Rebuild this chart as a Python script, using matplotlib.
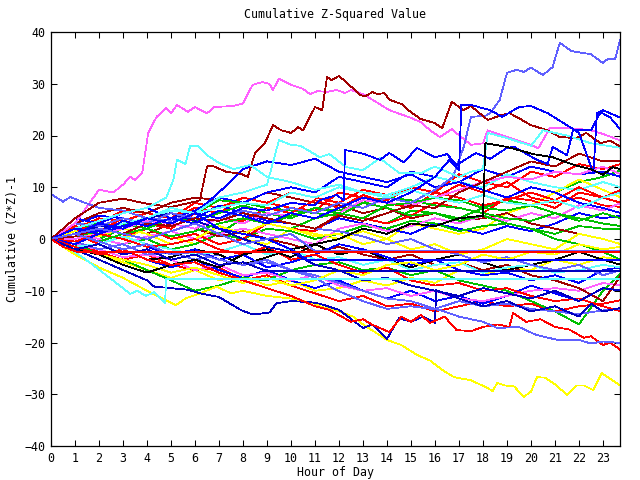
import matplotlib
matplotlib.use("Agg")
import matplotlib.pyplot as plt

plt.rcParams["font.family"] = ["DejaVu Sans Mono"]

# gnuplot-like colours
RED = "#ff0000"
GREEN = "#00c000"
BLUE = "#0000ff"
NAVY = "#0000c0"
MAGENTA = "#ff60ff"
CYAN = "#60ffff"
DARKRED = "#a00000"
YELLOW = "#ffff00"
BLACK = "#000000"
SLATE = "#6060ff"

# common hourly grid for the background tangle
hours = [0, 1, 2, 3, 4, 5, 6, 7, 8, 9, 10, 11, 12, 13, 14, 15, 16, 17, 18, 19, 20, 21, 22, 23, 23.75]

red_1 = [0, 2, 4, 3.5, 5, 4, 6, 5, 8, 7, 6, 5.5, 9, 8, 7.5, 10, 9, 12.5, 11, 10, 13, 12, 14.5, 13.5, 14.5]
green_1 = [0, 1, 0, 2, 1, 3, 2, 1, 4, 3, 2, 4, 5, 4, 3, 5.5, 5, 4, 6, 7.5, 6.5, 9, 11, 12, 13.3]
yellow_1 = [0, -1, 1, 0, 2, 0.5, -1, 1, 0, -1, 2, 1, 0, 1.5, 0, 3, 2, 1, 2, 5, 6.5, 9, 11.5, 9.5, 8]
red_2 = [0, 1.5, 3, 5.5, 5, 4, 7, 6, 8, 7, 9, 8, 7, 9.5, 8.5, 9.5, 8, 10.5, 9, 11, 8, 7, 8, 6.5, 6.2]
blue_1 = [0, 3, 4.5, 4, 3, 5, 4, 6.5, 5, 3.5, 3, 2, 4, 3, 2, 1, 3, 2, 1, 2.5, 1.5, 3, 5, 4, 4.5]
green_2 = [0, -1, -2, -1, 0, -2, -1, 1, 0, 2, 1.5, 0, 1, 2.5, 2, 3.5, 3, 1.5, 2.5, 3, 2, 1, 2.5, 2, 1.9]
darkred_1 = [0, 3, 5, 6, 5, 7, 8, 7.5, 7, 9, 8, 7, 6.5, 5, 6, 4, 5, 3.5, 4, 5, 3, 2, 1, 0, -1]
magenta_1 = [0, 1, 0, -1, 0.5, 1.5, 0, 1, 2, 1, 0, -1, 2, 3, 1.5, 2.5, 4, 3, 4.5, 3.5, 5, 4, 6.5, 5.5, 7]
blue_2 = [0, 4, 3, 5, 6, 4, 5.5, 8, 7, 9, 10, 9, 12, 11, 10, 13, 12, 11, 13.5, 12, 14, 13, 12.5, 13, 12]
red_3 = [0, 1, -1, 0.5, 2, 0, 1, -1, 0, 3, 2, 1.5, 5, 4, 3, 4.5, 7, 6, 5, 8, 7.5, 6, 9, 8, 7]
green_3 = [0, 2, 3, 2.5, 4, 6, 5, 7.5, 7, 6, 5.5, 5, 4.5, 7, 8, 7.5, 6.5, 6, 5, 4, 3.5, 5, 4, 3, 2.5]
cyan_1 = [0, 1.5, 1, 3, 4, 5.5, 5, 6, 7, 6.5, 9, 8, 10, 9, 8.5, 10, 12, 11, 10, 12.5, 11, 10, 9.5, 11, 10]
yellow_2 = [0, -2, -3, -4.5, -6, -7.5, -6, -8, -7, -9, -8, -10, -9.5, -8, -9, -7.5, -8.5, -6, -7, -5.5, -6, -4, -5, -3.5, -4]
red_4 = [0, -1, -2.5, -4, -3, -5, -6, -5.5, -8, -7, -9, -10.5, -12, -11, -13, -12.5, -14, -13, -12, -13, -12.5, -14, -13, -12.5, -11.8]
blue_3 = [0, -1.5, -3, -2, -4, -5.5, -4, -6, -7.5, -6, -8, -9.5, -8, -10, -11.5, -10, -12, -11, -12.5, -11, -9, -10.5, -12, -9.5, -9.9]
green_4 = [0, -1, -3, -4, -6, -8, -10, -9, -7.5, -8, -6, -5, -4.5, -6, -5.5, -7, -6, -8, -9, -10, -12, -14, -16.5, -10, -6.5]
magenta_2 = [0, -1, -2, -3.5, -3, -4, -6, -5, -7, -6.5, -8, -7, -9, -10, -9.5, -11, -10, -11.5, -12, -11, -10, -9.5, -10, -8.5, -9]
slate_1 = [0, -0.5, -2, -1, -3, -2.5, -4, -3, -5, -4.5, -6, -7, -8.5, -10, -11.5, -12, -13.5, -12, -13, -12.5, -13.5, -14, -14.5, -13.8, -13.5]
darkred_2 = [0, 1, 2.5, 2, 1, 3, 2, 0.5, 1.5, 0, -1, -2.5, -1.5, -3, -4, -3, -5, -4.5, -6, -5, -7, -8, -9.5, -12, -7]
black_2 = [0, -1.5, -3, -2, -4, -3.5, -2, -3, -5, -3.5, -2, -1, -3, -2, -4, -5.5, -4, -3, -4.5, -6, -5, -4, -2.5, -4, -5]
yellow_3 = [0, 1.5, 0.5, 2, 1, -1, 0, 2.5, 1, 3, 2, 0.5, 1, -1, 0, -2, -1, -3, -2, 0, -1, -2, 1, 0, -1]
blue_4 = [0, 2, 1, 0, -1.5, -3, -2, -4, -3, -5.5, -4.5, -3, -1, -2, -3.5, -5, -4, -6, -7, -6.5, -8, -7, -8.5, -6, -5.5]
red_5 = [0, 2.5, 1.5, 4, 3, 2, 5, 4, 3.5, 6, 5, 7.5, 6, 8.5, 7, 6, 9, 8, 6.5, 7.5, 9, 7.5, 10, 8, 9.5]
green_5 = [0, 0.5, 1.5, 3, 2, 4, 3.5, 5, 6.5, 5, 4, 6, 5.5, 7, 6, 4.5, 5, 3.5, 4.5, 3, 2, 0, -1, -2.5, -4]
magenta_3 = [0, 0, 1, 2, 3.5, 3, 2, 4, 3, 5, 4.5, 6, 5, 7.5, 7, 6.5, 8, 9.5, 11, 12, 11.5, 13, 12.5, 14, 12.5]
cyan_2 = [0, -1.5, -1, 0.5, -1, -2, -3, -2.5, -1, -3, -2, -4, -3.5, -5, -4, -6, -5, -4.5, -6.5, -5.5, -5, -6.5, -6, -5, -5.5]
red_6 = [0, -0.5, 1, 0, -1.5, -1, 0, -2, -3, -1.5, -4, -3, -5, -6.5, -5.5, -8, -9, -8.5, -10, -9.5, -11, -12, -11.5, -13, -14]
navy_1 = [0, 1, 2.5, 2, 4, 5, 3.5, 2, 0, -1.5, -2.5, -5, -6, -8, -7.5, -9, -10, -11, -9.5, -10.5, -11.5, -10, -12, -9.5, -10]
green_6 = [0, 1, -0.5, 1, 2, 0.5, 1.5, 3, 4, 3, 4.5, 6, 5, 4, 6.5, 7, 8, 7.5, 6, 5.5, 6.5, 5, 3.5, 5, 4]
slate_2 = [0, 3, 2.5, 4, 3, 5, 4, 3.5, 5, 4, 3, 2, 1.5, 0.5, -1, 0, -2, -3, -4.5, -3.5, -5, -6, -5, -7, -6]
yellow_4 = [0, -1.5, -3, -4, -5, -6.5, -5.5, -7, -8.5, -7.5, -9, -8, -6, -7, -5, -4.5, -6, -5, -3, -4, -2.5, -3, -1, -2, -1.5]
darkred_3 = [0, 0.5, 2, 1, 3, 2.5, 4, 3.5, 5, 4, 3, 2, 4.5, 3.5, 5, 6.5, 6, 9, 11, 13, 15, 14, 16.5, 15, 15]
blue_5 = [0, 2, 1.5, 3, 4, 3, 5, 9, 13.5, 15, 14.3, 15.5, 13, 12, 11, 12.5, 10, 11, 9.5, 8, 10, 9, 7, 6, 5]

# traced lines with their own hour points
magenta_top_h = [0, 1, 2, 2.6, 3, 3.3, 3.5, 3.8, 4.05, 4.4, 4.8, 5.0, 5.25, 5.7, 6.0, 6.5, 6.8, 7.6, 8.0, 8.4, 8.8, 9.1, 9.25, 9.5,
                 10.0, 10.5, 10.8, 11.1, 11.5, 11.9, 12.25, 12.5, 13.0, 13.4, 14.1, 15.0, 15.4, 15.8, 16.2, 16.7, 17.5, 18.0,
                 18.2, 19.0, 20.0, 20.3, 20.8, 21.7, 22.5, 23.0, 23.75]
magenta_top = [0, 3, 9.5, 9.0, 10.5, 12, 11.4, 12.7, 20.5, 23.6, 25.3, 24.3, 25.9, 24.6, 25.5, 24.3, 25.5, 25.7, 26.2, 29.8, 30.3,
               30, 28.8, 31, 29.8, 29, 28, 28.6, 28.4, 28.8, 28.2, 28.8, 28, 26.9, 24.9, 23.4, 22.6, 21, 19.7, 21.2, 18.2, 18.5,
               21, 19.7, 18.2, 17.5, 21.5, 21.4, 21, 20.3, 19]

slate_top_h = [0, 0.5, 0.8, 1.3, 2, 3, 4, 5, 6, 7, 8, 9, 10, 11, 12, 13, 14, 15, 16, 16.75, 17.2, 17.5, 18.1, 18.3, 18.7, 19,
               19.4, 19.7, 20, 20.5, 20.9, 21.2, 21.7, 22.5, 23, 23.2, 23.5, 23.75]
slate_top = [8.7, 7.2, 8.1, 7.2, 6, 5.5, 4, 3.5, 5, 4, 5.5, 4.5, 6, 5, 7, 6, 8, 7, 9.5, 12, 17.8, 23.6, 23.8, 24.3, 26.9, 32.1,
             32.7, 32.3, 33.1, 31.7, 33.2, 37.9, 36.3, 35.7, 34, 34.8, 34.7, 39]

darkred_peak_h = [0, 1, 2, 3, 4, 5, 6, 6.2, 6.5, 6.7, 7.3, 7.9, 8.2, 8.5, 8.9, 9.25, 9.6, 10, 10.3, 10.5, 11, 11.3, 11.5, 11.7,
                  12, 12.25, 12.9, 13.1, 13.4, 13.6, 13.9, 14.1, 14.6, 15, 15.4, 16, 16.3, 16.7, 17.2, 17.5, 18.2, 18.8,
                  19.1, 19.4, 20, 20.7, 21.2, 21.9, 22.3, 22.9, 23.3, 23.75]
darkred_peak = [0, 4, 7, 7.8, 6.8, 6.2, 7.2, 7.5, 14, 14.2, 13, 12.6, 12, 16.6, 18.4, 22, 21, 20.5, 21.6, 21, 25.5, 24.9, 31.3,
                30.7, 31.5, 30.5, 27.8, 27.6, 28.4, 28, 28.2, 26.9, 26.1, 24.5, 23.2, 22.4, 21.4, 26.5, 24.9, 25.7, 23, 24,
                24.3, 23.6, 22, 21, 19.7, 19.5, 20.5, 18.5, 19, 17.8]

cyan_a_h = [0, 1, 2, 3, 4, 4.8, 5.1, 5.25, 5.6, 5.8, 6.1, 6.5, 7, 7.6, 8.3, 9, 10, 11, 12, 13, 14, 15, 16, 17, 18, 19, 20, 21,
            22, 23, 23.75]
cyan_a = [0, 2, 3.5, 5, 6, 8, 11.4, 15.3, 14.5, 18, 18, 16.2, 14.7, 13.5, 14.3, 12, 11, 9.5, 10.5, 9, 8, 9.5, 8, 7, 8.5, 7,
          6.5, 7.5, 6, 8, 9]

cyan_b_h = [0, 1, 2, 3, 4, 5, 6, 7, 8, 9, 9.5, 10, 10.4, 11.2, 11.6, 12.3, 13, 13.7, 14.5, 15.4, 16, 17, 17.5, 18, 18.2, 19,
            20, 20.5, 21.5, 22.5, 23.75]
cyan_b = [0, -1, 1, 3, 4, 6, 5, 8, 9, 10.5, 19.1, 18.2, 18, 15.8, 16.4, 13.9, 13.3, 15.6, 12.8, 12.7, 14, 12, 13, 13.5, 20.5,
          19.5, 18, 21, 20, 18.5, 17.6]

blue_jump_h = [0, 1, 2, 3, 4, 5, 6, 7, 8, 9, 10, 11, 12, 13, 14, 15, 16, 16.6, 17, 17.1, 17.5, 18.3, 18.8, 19.5, 20, 20.7,
               21.5, 22, 22.6, 22.75, 23, 23.75]
blue_jump = [0, 2, 1, 3.5, 2.5, 4, 3, 5.5, 4.5, 3, 5, 4, 6, 8, 7, 9, 12, 15.3, 13.3, 25.9, 25.9, 24.9, 23.6, 25.5, 25.7, 24.3,
             22, 20.5, 12.7, 24.3, 24.9, 23.4]

blue_b_h = [0, 1, 2, 3, 4, 5, 6, 7, 8, 9, 10, 11, 11.2, 11.9, 12.2, 12.25, 13, 13.7, 14.1, 14.7, 15.25, 16, 16.5, 16.9, 17.7,
            18.3, 19, 19.3, 20.25, 20.7, 20.9, 21.5, 21.75, 22.5, 22.9, 23.3, 23.75]
blue_b = [0, -1, 1, 2.5, 4, 3, 5, 4, 6, 5.5, 7, 6.5, 7.5, 8.5, 7.5, 17.2, 16.5, 15.3, 16.6, 14.8, 17.6, 15.8, 16.4, 14.3, 16.6,
          15.5, 17.6, 17.8, 15.3, 14.5, 17.8, 16.2, 21, 21, 24.5, 23.5, 21]

black_1_h = [0, 1, 2, 3, 4, 5, 6, 7, 8, 9, 10, 11, 12, 13, 14, 15, 16, 17, 18, 18.1, 19, 20.1, 20.9, 21.8, 22.5, 23, 23.4, 23.75]
black_1 = [0, -2, -3, -5, -6.5, -5, -4, -5.5, -3, -2, -3.5, -1, 0, 2, 1, 3, 2.5, 4, 4.5, 18.5, 17.8, 16.4, 15.8, 14.3, 13.5,
           12.4, 13.9, 13.5]

yellow_low_h = [0, 1, 2, 3, 4, 5.2, 5.6, 6.2, 6.9, 7.5, 8, 9, 10, 11, 11.2, 12, 12.6, 13, 14, 14.6, 15.25, 15.8, 16.3, 16.8,
                17.5, 18.2, 18.4, 18.6, 18.9, 19.3, 19.7, 20, 20.25, 20.6, 21, 21.5, 21.9, 22.2, 22.6, 22.95, 23.3, 23.75]
yellow_low = [0, -3, -5.5, -7.5, -10, -12.8, -11.5, -10.5, -9.2, -10.5, -10, -11, -11.5, -12.5, -13, -14, -15, -16.5, -19.5,
              -20.5, -22.4, -23.5, -25.3, -26.7, -27.3, -28.8, -29.4, -27.8, -28.3, -28.5, -30.5, -29.5, -26.7, -26.8, -28.1,
              -30.1, -28.3, -28.3, -29.2, -25.9, -27, -28.4]

blue_low_h = [0, 1, 2, 3, 4, 4.3, 5, 5.7, 6.3, 7, 7.9, 8.4, 9.1, 9.4, 10, 10.8, 11.2, 12, 13, 13.4, 14, 14.5, 15, 15.5, 16,
              16.05, 17, 18, 19, 20, 21, 22, 22.5, 23, 23.75]
blue_low = [0, -2, -4, -6, -8, -9.2, -9.5, -9.8, -10.6, -11.2, -13.7, -14.6, -14.2, -12.4, -12, -12.2, -12.5, -13.7, -17.2, -16.5,
            -19.3, -15.3, -16, -15, -16.2, -9.9, -11.5, -13, -12, -14, -13, -15, -12.5, -14, -13.3]

red_low_h = [0, 1, 2, 3, 4, 5, 6, 7, 8, 9, 10, 11, 11.6, 12.5, 13, 13.4, 14.1, 14.6, 15, 15.4, 15.8, 16.4, 16.9, 17.5, 18, 18.6,
             19.1, 19.25, 19.8, 20.4, 21, 21.6, 22.2, 22.5, 23, 23.3, 23.75]
red_low = [0, -1.5, -3, -2, -4, -5, -4.5, -6.5, -8, -9.5, -11, -13, -13.7, -16, -15.5, -16.6, -18, -15, -16, -14.7, -16.2, -15,
           -17.6, -17.8, -17, -16.5, -17, -14.3, -16, -15.5, -17, -17.5, -19.1, -18.8, -20.5, -20, -21.5]

slate_low_h = [0, 1, 2, 3, 4, 5, 6, 7, 8, 9, 10, 11, 11.9, 13, 14, 15, 16.2, 17, 18, 18.6, 19.5, 20.2, 21.1, 22, 22.5, 23, 23.75]
slate_low = [0, 1, -0.5, -2, -1, -3, -2.5, -4, -5, -4, -6, -7.5, -9.9, -12, -13.5, -13, -13.7, -15, -16, -17.2, -17, -18.5,
             -19.5, -19.5, -20.2, -19.8, -20.1]

# series that get stuck at one value
red_flat_h = [0, 0.5, 1.1, 23.75]
red_flat = [0, -1.5, -2.5, -2.5]
slate_flat_h = [0, 2, 4, 6, 8, 10, 11, 23.75]
slate_flat = [0, 2, 0, 3, -1, 1, -2.3, -2.3]
blue_flat_h = [0, 1, 2, 3, 4, 5, 6, 7, 8, 9, 10, 10.7, 23.75]
blue_flat = [0, 1, 3, 2, 4, 3, 5, 2, 1, 0, -2, -4.1, -4.1]
navy_flat_h = [0, 1, 2, 3, 4, 5, 6, 7, 8, 9, 23.75]
navy_flat = [0, -2, -1, -3, -2, -4, -3, -5, -4.5, -6.2, -6.2]
cyan_flat_h = [0, 1, 1.6, 2.5, 3.3, 3.6, 3.95, 4.3, 4.75, 4.8, 23.75]
cyan_flat = [0, -2.5, -4.5, -7.7, -10.6, -10, -11, -10.3, -12.4, -7.7, -7.7]

fig = plt.figure(figsize=(6.4, 4.8), dpi=100)
ax = fig.add_axes([51 / 640, 34 / 480, 569 / 640, 414 / 480])

lw = 0.55
background = [
    (red_1, RED), (green_1, GREEN), (yellow_1, YELLOW), (red_2, RED), (blue_1, BLUE), (green_2, GREEN),
    (darkred_1, DARKRED), (magenta_1, MAGENTA), (blue_2, BLUE), (red_3, RED), (green_3, GREEN), (cyan_1, CYAN),
    (yellow_2, YELLOW), (red_4, RED), (blue_3, BLUE), (green_4, GREEN), (magenta_2, MAGENTA), (slate_1, SLATE),
    (darkred_2, DARKRED), (black_2, BLACK), (yellow_3, YELLOW), (blue_4, BLUE), (red_5, RED), (green_5, GREEN),
    (magenta_3, MAGENTA), (cyan_2, CYAN), (red_6, RED), (navy_1, NAVY), (green_6, GREEN), (slate_2, SLATE),
    (yellow_4, YELLOW), (darkred_3, DARKRED), (blue_5, BLUE),
]
for vals, col in background:
    ax.plot(hours, vals, color=col, lw=lw, antialiased=False)

traced = [
    (magenta_top_h, magenta_top, MAGENTA), (slate_top_h, slate_top, SLATE), (darkred_peak_h, darkred_peak, DARKRED),
    (cyan_a_h, cyan_a, CYAN), (cyan_b_h, cyan_b, CYAN), (blue_jump_h, blue_jump, BLUE), (blue_b_h, blue_b, BLUE),
    (black_1_h, black_1, BLACK), (yellow_low_h, yellow_low, YELLOW), (blue_low_h, blue_low, NAVY),
    (red_low_h, red_low, RED), (slate_low_h, slate_low, SLATE),
    (cyan_flat_h, cyan_flat, CYAN), (navy_flat_h, navy_flat, NAVY), (blue_flat_h, blue_flat, BLUE),
    (slate_flat_h, slate_flat, SLATE), (red_flat_h, red_flat, RED),
]
for xs, vals, col in traced:
    ax.plot(xs, vals, color=col, lw=lw, antialiased=False)

ax.set_xlim(0, 23.71)
ax.set_ylim(-40, 40)
ax.set_xticks(range(0, 24))
ax.set_yticks(range(-40, 41, 10))
ax.tick_params(direction="in", length=4.5, width=0.75, top=True, right=True, labelsize=8.4, pad=4)
for s in ax.spines.values():
    s.set_linewidth(0.9)

ax.set_title("Cumulative Z-Squared Value", fontsize=8.4, pad=10)
ax.set_xlabel("Hour of Day", fontsize=8.4, labelpad=1)
ax.set_ylabel("Cumulative (Z*Z)-1", fontsize=8.4, labelpad=4)

fig.savefig("out.png", dpi=100)
